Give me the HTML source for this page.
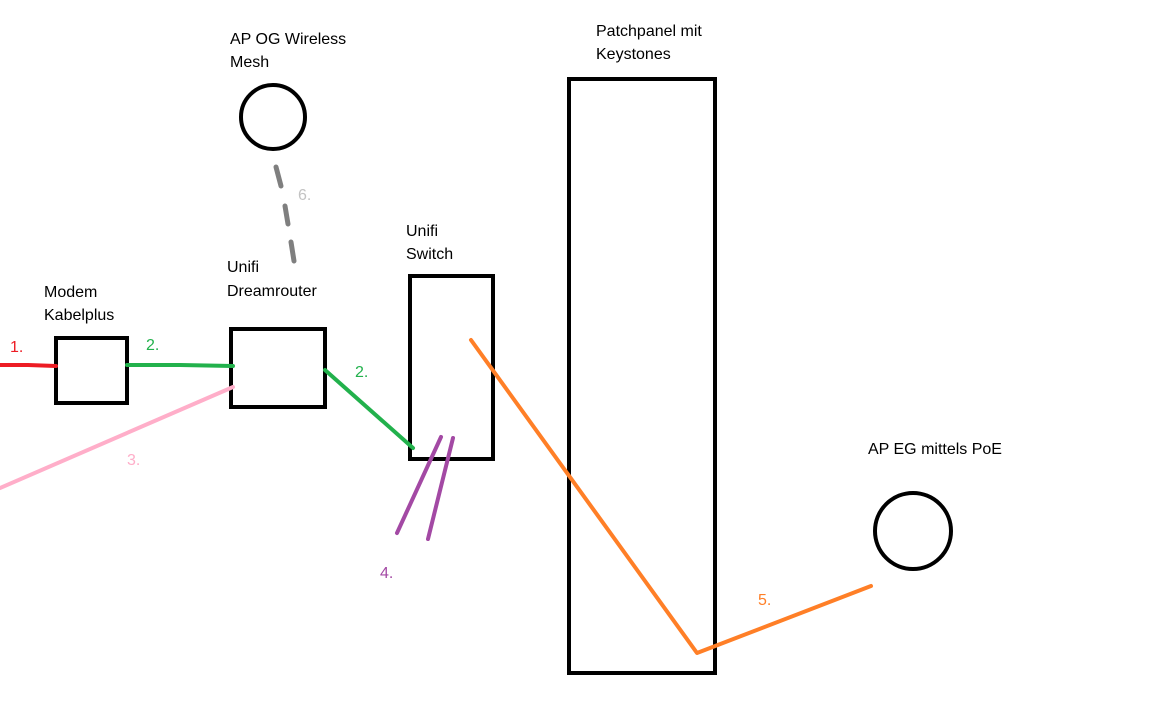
<!DOCTYPE html>
<html><head><meta charset="utf-8"><style>
html,body{margin:0;padding:0;background:#fff;width:1152px;height:720px;overflow:hidden}
svg{display:block}
text{font-family:"Liberation Sans","DejaVu Sans",sans-serif;font-size:16px}
</style></head><body>
<svg width="1152" height="720" viewBox="0 0 1152 720">
<rect width="1152" height="720" fill="#fff"/>
<g fill="none" stroke="#000" stroke-width="4">
<rect x="56" y="338" width="71" height="65"/>
<rect x="231" y="329" width="94" height="78"/>
<rect x="410" y="276" width="83" height="183"/>
<rect x="569" y="79" width="146" height="594"/>
<circle cx="273" cy="117" r="32"/>
<circle cx="913" cy="531" r="38"/>
</g>
<g fill="none" stroke-width="4" stroke-linecap="round">
<polyline points="0,365 28,365 56,366" stroke="#ed1c24"/>
<polyline points="127,365 180,365 233,366" stroke="#22b14c"/>
<line x1="325" y1="370" x2="413" y2="448" stroke="#22b14c"/>
<line x1="0" y1="488" x2="233" y2="387" stroke="#ffaec9"/>
<line x1="441" y1="437" x2="397" y2="533" stroke="#a349a4"/>
<line x1="453" y1="438" x2="428" y2="539" stroke="#a349a4"/>
<polyline points="471,340 697,653 871,586" stroke="#ff7f27" stroke-linejoin="round"/>
<line x1="276" y1="167" x2="281" y2="186" stroke="#7f7f7f" stroke-width="5"/>
<line x1="285" y1="206" x2="288" y2="224" stroke="#7f7f7f" stroke-width="5"/>
<line x1="291" y1="242" x2="294" y2="261" stroke="#7f7f7f" stroke-width="5"/>
</g>
<g fill="#000">
<text x="230" y="44">AP OG Wireless</text>
<text x="230" y="67">Mesh</text>
<text x="596" y="36">Patchpanel mit</text>
<text x="596" y="59">Keystones</text>
<text x="406" y="236">Unifi</text>
<text x="406" y="259">Switch</text>
<text x="227" y="272">Unifi</text>
<text x="227" y="296">Dreamrouter</text>
<text x="44" y="297">Modem</text>
<text x="44" y="320">Kabelplus</text>
<text x="868" y="454">AP EG mittels PoE</text>
</g>
<text x="10" y="352" fill="#ed1c24">1.</text>
<text x="146" y="350" fill="#22b14c">2.</text>
<text x="355" y="377" fill="#22b14c">2.</text>
<text x="127" y="465" fill="#ffaec9">3.</text>
<text x="380" y="578" fill="#a349a4">4.</text>
<text x="758" y="605" fill="#ff7f27">5.</text>
<text x="298" y="200" fill="#c3c3c3">6.</text>
</svg>
</body></html>
